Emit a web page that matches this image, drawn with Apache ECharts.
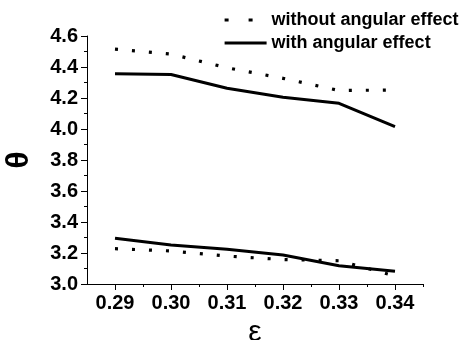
<!DOCTYPE html>
<html>
<head>
<meta charset="utf-8">
<script src="https://cdn.jsdelivr.net/npm/echarts@6/dist/echarts.min.js"></script>
<style>html,body{margin:0;padding:0;background:#fff}#c{width:462px;height:340px}</style>
</head>
<body>
<div id="c"></div>
<script>
var eps = [0.29, 0.30, 0.31, 0.32, 0.33, 0.34];
var withoutUpper = [4.515, 4.483, 4.395, 4.327, 4.248, 4.252];
var withUpper = [4.356, 4.352, 4.263, 4.205, 4.166, 4.015];
var withLower = [3.295, 3.252, 3.224, 3.187, 3.118, 3.082];
var withoutLower = [3.228, 3.213, 3.180, 3.158, 3.150, 3.052];
var xTicks = [0.29, 0.30, 0.31, 0.32, 0.33, 0.34];
var xMinorTicks = [0.295, 0.305, 0.315, 0.325, 0.335, 0.345];
var NAME_WITHOUT = 'without angular effect';
var NAME_WITH = 'with angular effect';

function pairs(ys) { return eps.map(function (x, i) { return [x, ys[i]]; }); }

var font = 'Liberation Sans';
var dotted = { color: '#000', width: 3.2, type: [3, 14], cap: 'butt' };
var legendDotted = { color: '#000', width: 3.2, type: [4, 20], cap: 'butt' };
var solid = { color: '#000', width: 3, type: 'solid' };

var chart = echarts.init(document.getElementById('c'), null, { renderer: 'canvas' });
chart.setOption({
  animation: false,
  backgroundColor: '#fff',
  grid: { left: 87, top: 36, right: 39, bottom: 56, containLabel: false, outerBoundsMode: 'none' },
  legend: {
    orient: 'vertical',
    left: 223,
    top: 11,
    padding: 0,
    itemWidth: 42,
    itemHeight: 14,
    itemGap: 5,
    itemStyle: { opacity: 0 },
    textStyle: { fontFamily: font, fontWeight: 'bold', fontSize: 18, color: '#000' },
    data: [
      { name: NAME_WITHOUT, lineStyle: legendDotted, itemStyle: { opacity: 0 } },
      { name: NAME_WITH, lineStyle: solid, itemStyle: { opacity: 0 } }
    ]
  },
  xAxis: [{
    type: 'value',
    min: 0.285, max: 0.345,
    name: 'ε',
    nameLocation: 'middle',
    nameGap: 32,
    nameTextStyle: { fontFamily: font, fontSize: 30, color: '#000' },
    axisLine: { show: true, lineStyle: { color: '#000', width: 1 } },
    axisTick: { show: true, length: 6, customValues: xTicks, lineStyle: { color: '#000' } },
    axisLabel: { customValues: xTicks, margin: 9, fontFamily: font, fontWeight: 'bold', fontSize: 20, color: '#000',
      formatter: function (v) { return v.toFixed(2); } },
    splitLine: { show: false }
  }, {
    type: 'value',
    min: 0.285, max: 0.345,
    position: 'bottom',
    axisLine: { show: false },
    axisTick: { show: true, length: 3, customValues: xMinorTicks, lineStyle: { color: '#000' } },
    axisLabel: { show: false },
    splitLine: { show: false }
  }],
  yAxis: {
    type: 'value',
    min: 3.0, max: 4.6, interval: 0.2,
    name: 'θ',
    nameLocation: 'middle',
    nameRotate: 90,
    nameGap: 52,
    nameTextStyle: { fontFamily: font, fontSize: 32, fontWeight: 'bold', color: '#000' },
    axisLine: { show: true, lineStyle: { color: '#000', width: 1 } },
    axisTick: { show: true, length: 6, lineStyle: { color: '#000' } },
    minorTick: { show: true, splitNumber: 2, length: 3, lineStyle: { color: '#000' } },
    axisLabel: { margin: 9, fontFamily: font, fontWeight: 'bold', fontSize: 20, color: '#000',
      formatter: function (v) { return v.toFixed(1); } },
    splitLine: { show: false }
  },
  series: [
    { name: NAME_WITHOUT, type: 'line', xAxisIndex: 0, data: pairs(withoutUpper), showSymbol: false, symbol: 'none', lineStyle: dotted, itemStyle: { color: '#000' } },
    { name: NAME_WITH, type: 'line', xAxisIndex: 0, data: pairs(withUpper), showSymbol: false, symbol: 'none', lineStyle: solid, itemStyle: { color: '#000' } },
    { name: NAME_WITH, type: 'line', xAxisIndex: 0, data: pairs(withLower), showSymbol: false, symbol: 'none', lineStyle: solid, itemStyle: { color: '#000' } },
    { name: NAME_WITHOUT, type: 'line', xAxisIndex: 0, data: pairs(withoutLower), showSymbol: false, symbol: 'none', lineStyle: dotted, itemStyle: { color: '#000' } }
  ]
});
</script>
</body>
</html>
